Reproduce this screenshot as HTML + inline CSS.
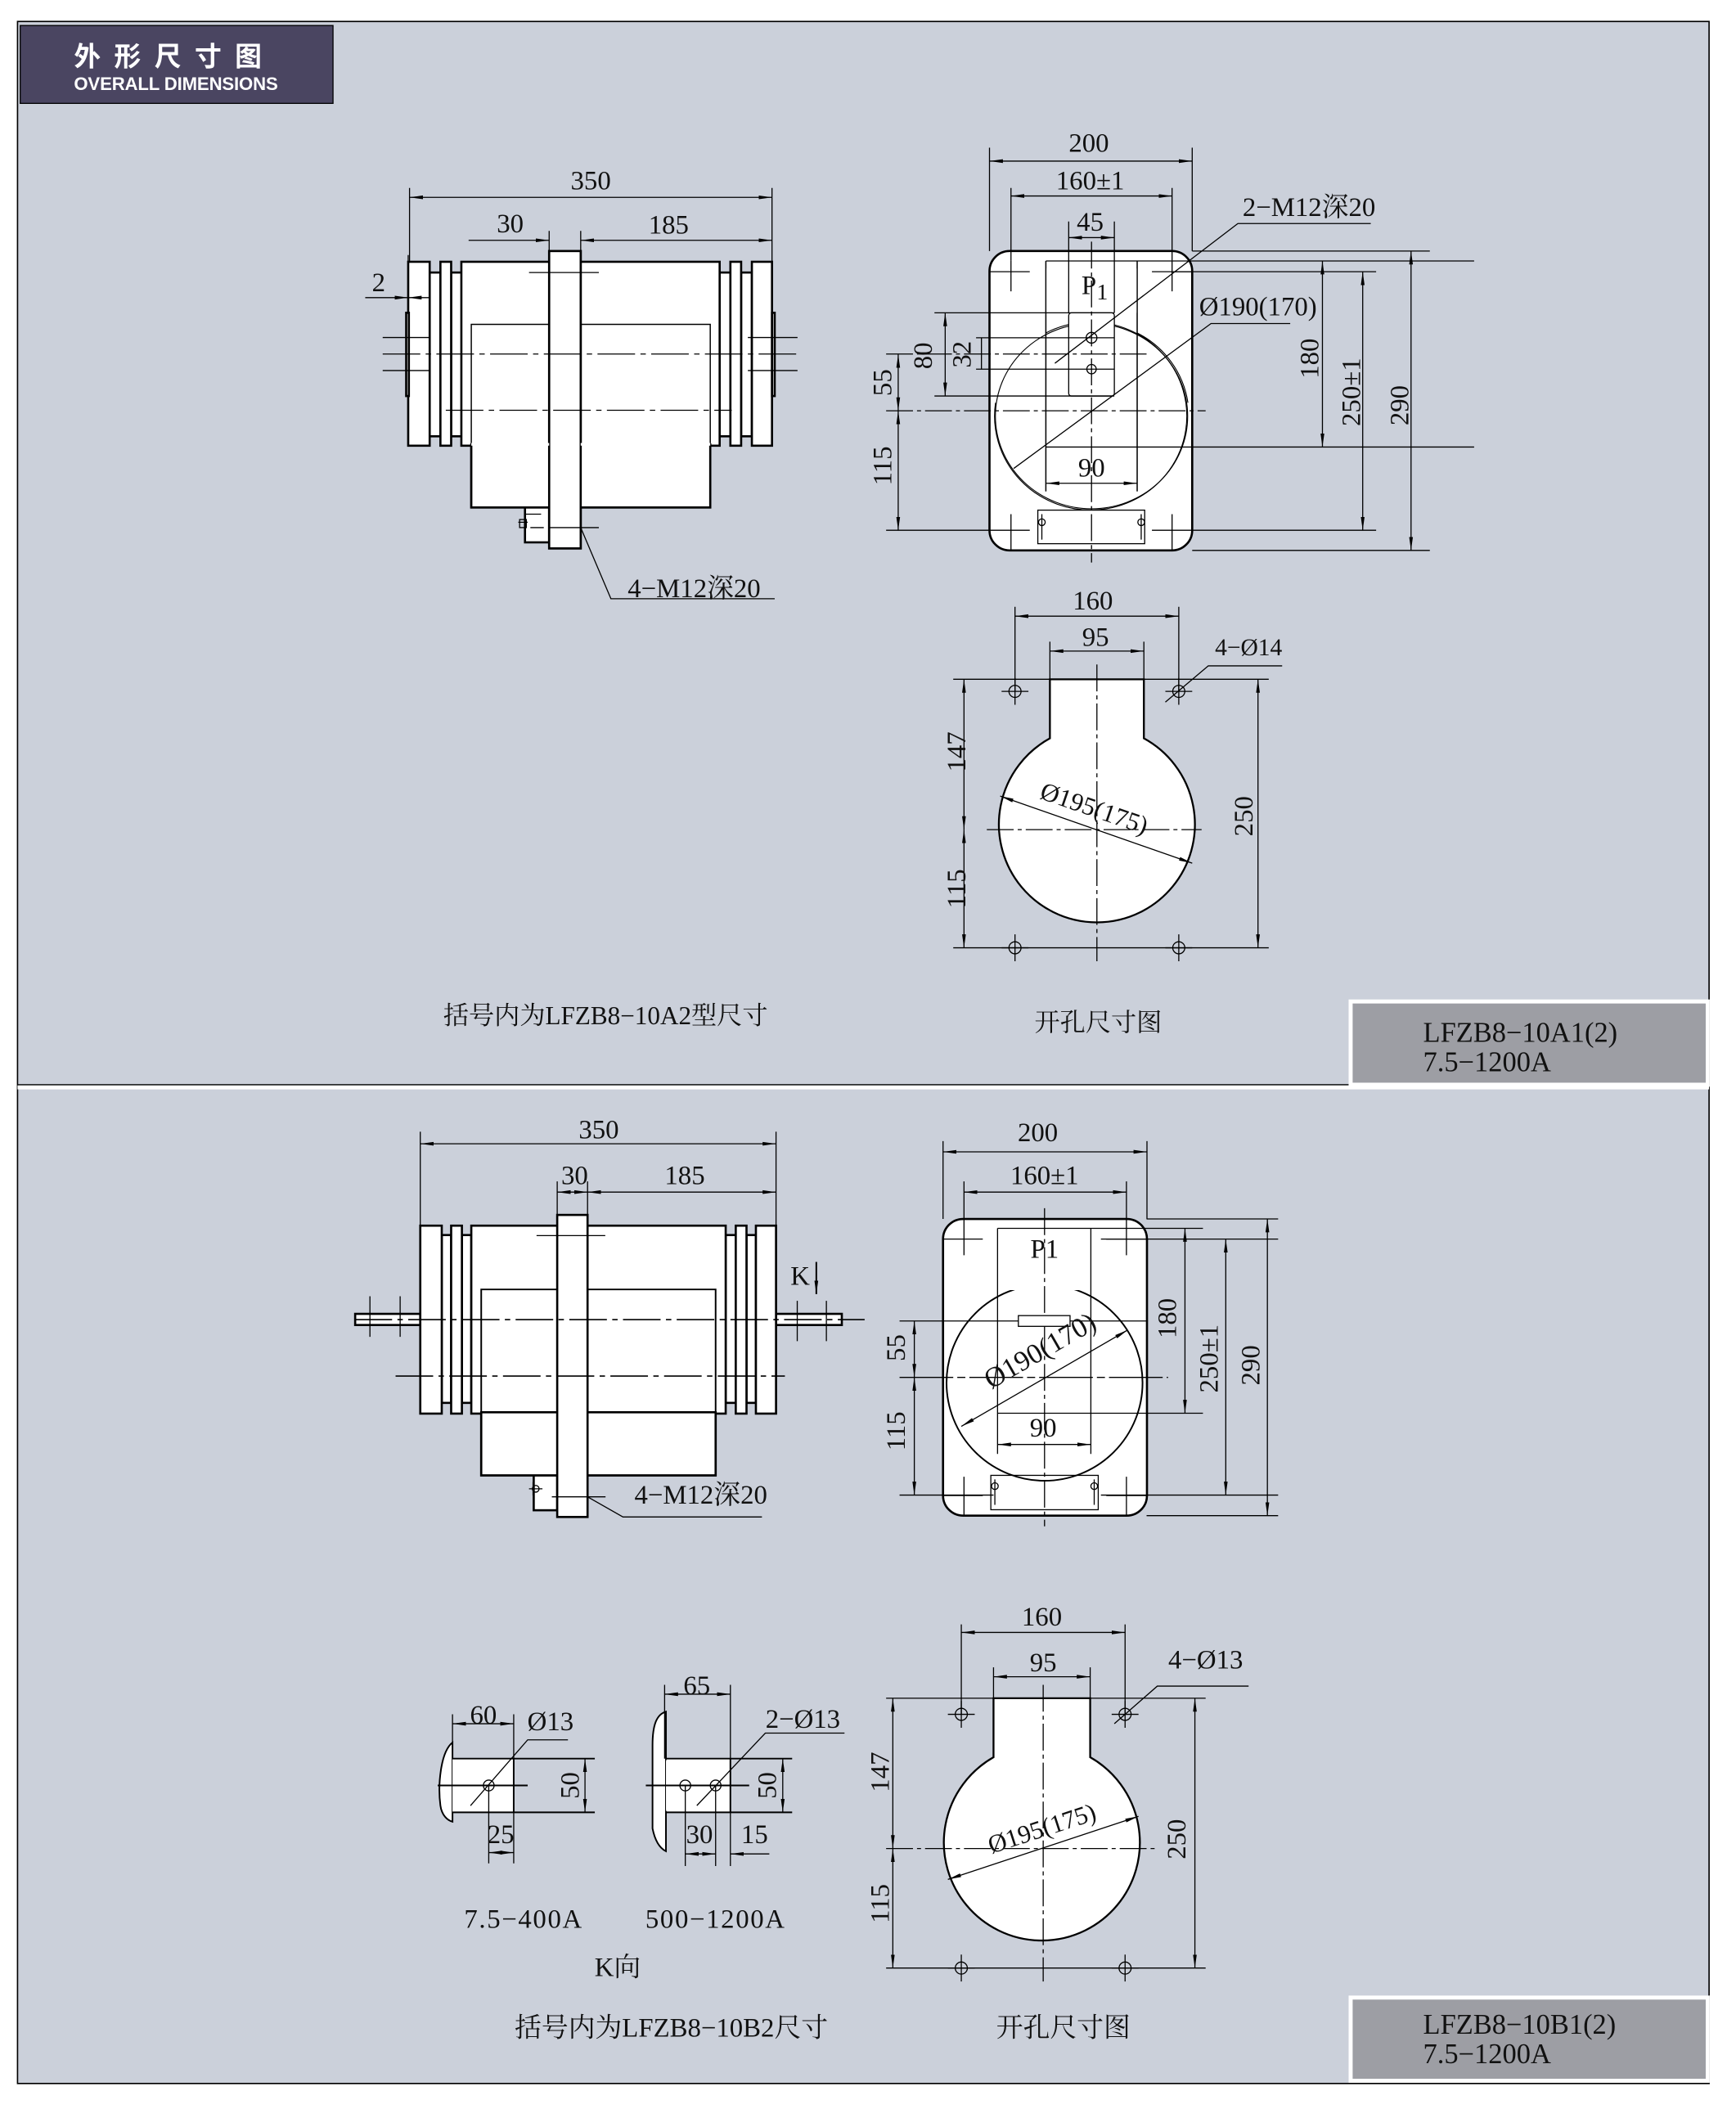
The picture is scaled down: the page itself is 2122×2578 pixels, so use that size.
<!DOCTYPE html>
<html><head><meta charset="utf-8"><style>
html,body{margin:0;padding:0;background:#fff;}
svg{display:block;}
text{font-family:"Liberation Serif","Noto Serif CJK SC","Noto Sans CJK SC",serif;fill:#111;}
</style></head><body>
<svg width="2122" height="2578" viewBox="0 0 1293 1571" xmlns="http://www.w3.org/2000/svg">
<defs>
<marker id="a" viewBox="0 0 10 4" refX="10" refY="2" markerWidth="10" markerHeight="4" markerUnits="userSpaceOnUse" orient="auto-start-reverse"><path d="M0,0.6 L10,2 L0,3.4Z" fill="#000"/></marker>
</defs>
<rect width="1293" height="1571" fill="#fff"/>
<rect x="13" y="16" width="1260" height="1536" fill="#cbd0da" stroke="#000" stroke-width="1"/>
<line x1="13" y1="810" x2="1273" y2="810" stroke="#fff" stroke-width="3"/>
<line x1="13" y1="808" x2="1006" y2="808" stroke="#000" stroke-width="0.8"/>
<!-- header -->
<rect x="15" y="19" width="233" height="58" fill="#4a4561" stroke="#000" stroke-width="0.8"/>
<text x="55" y="49" style="font-family:'Noto Sans CJK SC',sans-serif;font-weight:bold;fill:#fff" font-size="20" letter-spacing="10">外形尺寸图</text>
<text x="55" y="67" style="font-family:'Liberation Sans',sans-serif;font-weight:bold;fill:#fff" font-size="13.5" textLength="152">OVERALL DIMENSIONS</text>
<!-- tag boxes -->
<rect x="1006" y="746" width="266" height="62" fill="#9d9ea4" stroke="#fff" stroke-width="3"/>
<text x="1060" y="776" font-size="21">LFZB8−10A1(2)</text>
<text x="1060" y="798" font-size="21">7.5−1200A</text>
<rect x="1006" y="1488" width="266" height="62" fill="#9d9ea4" stroke="#fff" stroke-width="3"/>
<text x="1060" y="1515" font-size="21">LFZB8−10B1(2)</text>
<text x="1060" y="1537" font-size="21">7.5−1200A</text>

<g stroke="#000" fill="none" stroke-width="0.8">
<!-- ================= TOP SIDE VIEW ================= -->
<g fill="#fff" stroke-width="1.6">
<rect x="351" y="320" width="178" height="58"/>
<rect x="320" y="203" width="8" height="122"/>
<rect x="336" y="203" width="8" height="122"/>
<rect x="536" y="203" width="8" height="122"/>
<rect x="552" y="203" width="8" height="122"/>
<rect x="304" y="195" width="16" height="137"/>
<rect x="328" y="195" width="8" height="137"/>
<rect x="343.6" y="195" width="192.4" height="137"/>
<rect x="544" y="195" width="8" height="137"/>
<rect x="560" y="195" width="15" height="137"/>
<rect x="302.5" y="233" width="2" height="62"/>
<rect x="575" y="233" width="2" height="62"/>
<rect x="391" y="378" width="18" height="26"/>
<rect x="409" y="187" width="23.5" height="221.5"/>
</g>
<rect x="351" y="331" width="178" height="47" fill="#fff" stroke-width="1.6"/>
<path d="M351,332 V241.6 H409 M432.5,241.6 H529 V332" stroke-width="0.9"/>
<rect x="409" y="187" width="23.5" height="221.5" fill="#fff" stroke-width="1.6"/>
<path d="M351,331 H409 M432.5,331 H529" stroke="#fff" stroke-width="2"/>
<line x1="285" y1="263.7" x2="594" y2="263.7" stroke-dasharray="28,4,4,4"/>
<line x1="332" y1="305.6" x2="545" y2="305.6" stroke-dasharray="28,4,4,4"/>
<path d="M285,251.4 H320 M285,276 H320 M557,251.4 H594 M557,276 H594 M394,203 H446 M409,393 H446"/>
<path d="M386,389 H393 M391,383 H403 M395,393 H405"/>
<rect x="387" y="387" width="5" height="6"/>
<!-- dims -->
<path d="M305,140 V195 M575,140 V195 M409,172 V187 M432.5,172 V187 M304,190 V233"/>
<line x1="305" y1="147" x2="575" y2="147" marker-start="url(#a)" marker-end="url(#a)"/>
<line x1="349" y1="179" x2="409" y2="179" marker-end="url(#a)"/>
<line x1="432.5" y1="179" x2="575" y2="179" marker-start="url(#a)" marker-end="url(#a)"/>
<line x1="272" y1="221.7" x2="304" y2="221.7" marker-end="url(#a)"/>
<line x1="320" y1="221.7" x2="304" y2="221.7" marker-end="url(#a)"/>
<path d="M432.5,393 L455,446 H577"/>

<!-- ================= TOP FRONT VIEW ================= -->
<rect x="737" y="187" width="151" height="223" rx="15" fill="#fff" stroke-width="1.6"/>
<path d="M779,194.4 V366 M847,194.4 V366 M779,194.4 H1098 M779,333 H1098 M875,202.4 H1025 M888,395 H1025 M888,187 H1065 M888,410 H1065"/>
<path d="M741.5,300 A71.6,70 0 1 0 779,248 M847,248 A71.6,70 0 0 1 884.8,300" stroke-width="0.7"/>
<ellipse cx="813" cy="310" rx="71.6" ry="69" stroke-width="0.7"/>
<rect x="779" y="200" width="68" height="33" fill="#fff" stroke="none"/>
<path d="M779,194.4 V366 M847,194.4 V366"/>
<rect x="796" y="233" width="34" height="62" rx="2" fill="#fff"/>
<circle cx="813" cy="251.6" r="4"/><circle cx="813" cy="275" r="3.5"/>
<line x1="813" y1="180" x2="813" y2="419" stroke-dasharray="20,3,3,3"/>
<line x1="660" y1="263.7" x2="855" y2="263.7" stroke-dasharray="20,3,3,3"/>
<line x1="660" y1="306" x2="898" y2="306" stroke-dasharray="20,3,3,3"/>
<path d="M696,233 H830 M696,295 H830 M727,251.6 H830 M727,275 H830 M660,395 H737"/>
<path d="M753,194 V217 M737,202.4 H767 M873,194 V217 M858,202.4 H888 M753,383 V410 M737,395 H767 M873,383 V410 M858,395 H888"/>
<rect x="773" y="380" width="79.6" height="25"/>
<path d="M776,383 V402 M850,383 V402"/>
<circle cx="776" cy="389" r="2.5"/><circle cx="850" cy="389" r="2.5"/>
<!-- dims -->
<path d="M737,110 V187 M888,110 V187 M753,140 V194 M873,140 V194 M796,165 V233 M830,165 V233"/>
<line x1="737" y1="120" x2="888" y2="120" marker-start="url(#a)" marker-end="url(#a)"/>
<line x1="753" y1="146" x2="873" y2="146" marker-start="url(#a)" marker-end="url(#a)"/>
<line x1="796" y1="177" x2="830" y2="177" marker-start="url(#a)" marker-end="url(#a)"/>
<line x1="985" y1="194.4" x2="985" y2="333" marker-start="url(#a)" marker-end="url(#a)"/>
<line x1="1015" y1="202.4" x2="1015" y2="395" marker-start="url(#a)" marker-end="url(#a)"/>
<line x1="1051" y1="187" x2="1051" y2="410" marker-start="url(#a)" marker-end="url(#a)"/>
<line x1="704" y1="233" x2="704" y2="295" marker-start="url(#a)" marker-end="url(#a)"/>
<line x1="731" y1="251.6" x2="731" y2="275"/>
<line x1="669" y1="264" x2="669" y2="306" marker-start="url(#a)" marker-end="url(#a)"/>
<line x1="669" y1="306" x2="669" y2="395" marker-start="url(#a)" marker-end="url(#a)"/>
<line x1="779" y1="360" x2="847" y2="360" marker-start="url(#a)" marker-end="url(#a)"/>
<path d="M785.7,270.6 L922,166.5 H1021"/>
<path d="M755,349 L902,241 H961"/>

<!-- ================= TOP CUTOUT ================= -->
<path d="M782,506 H852 V550 A73,73 0 1 1 782,550 Z" fill="#fff" stroke-width="1.4"/>
<line x1="817" y1="495" x2="817" y2="716" stroke-dasharray="20,3,3,3"/>
<line x1="735" y1="618" x2="895" y2="618" stroke-dasharray="20,3,3,3"/>
<circle cx="756" cy="515" r="4.5"/><circle cx="878" cy="515" r="4.5"/>
<circle cx="756" cy="706" r="4.5"/><circle cx="878" cy="706" r="4.5"/>
<path d="M746,515 H766 M756,505 V525 M868,515 H888 M878,505 V525 M746,706 H766 M756,696 V716 M868,706 H888 M878,696 V716"/>
<path d="M756,452 V515 M878,452 V515 M782,478 V506 M852,478 V506 M710,506 H782 M852,506 H945 M710,706 H945"/>
<line x1="756" y1="459" x2="878" y2="459" marker-start="url(#a)" marker-end="url(#a)"/>
<line x1="782" y1="485" x2="852" y2="485" marker-start="url(#a)" marker-end="url(#a)"/>
<line x1="718" y1="506" x2="718" y2="618" marker-start="url(#a)" marker-end="url(#a)"/>
<line x1="718" y1="618" x2="718" y2="706" marker-start="url(#a)" marker-end="url(#a)"/>
<line x1="937" y1="506" x2="937" y2="706" marker-start="url(#a)" marker-end="url(#a)"/>
<line x1="745" y1="593" x2="888" y2="643" marker-start="url(#a)" marker-end="url(#a)"/>
<path d="M868,523 L900,496 H955"/>

<!-- ================= BOTTOM SIDE VIEW ================= -->
<g fill="#fff" stroke-width="1.6">
<rect x="358.4" y="1045" width="174.6" height="54"/>
<rect x="329" y="920" width="7" height="125"/>
<rect x="344" y="920" width="7" height="125"/>
<rect x="540.5" y="920" width="7.5" height="125"/>
<rect x="556" y="920" width="7" height="125"/>
<rect x="264.5" y="978.7" width="48.5" height="8.3"/>
<rect x="578" y="978.7" width="49" height="8.3"/>
<rect x="313" y="913" width="16" height="140"/>
<rect x="336" y="913" width="8" height="140"/>
<rect x="351" y="913" width="189.5" height="140"/>
<rect x="548" y="913" width="8" height="140"/>
<rect x="563" y="913" width="15" height="140"/>
<rect x="397.5" y="1099" width="17.5" height="26"/>
</g>
<rect x="358.4" y="1052" width="174.6" height="47" fill="#fff" stroke-width="1.6"/>
<path d="M358.4,1053 V960.5 H533 V1053" stroke-width="1.2"/>
<rect x="415" y="905" width="22.6" height="225" fill="#fff" stroke-width="1.6"/>
<line x1="264" y1="983" x2="644" y2="983" stroke-dasharray="28,4,4,4" stroke-width="1"/>
<line x1="294.6" y1="1025" x2="584.6" y2="1025" stroke-dasharray="28,4,4,4" stroke-width="1"/>
<path d="M275.5,965.6 V995.8 M298,965.6 V995.8 M593.8,969 V999 M615.5,969 V999 M399.6,920.4 H450.8 M411,1115 H451"/>
<path d="M394,1109 H404 M397,1104 V1114"/>
<circle cx="399" cy="1109" r="2.5"/>
<path d="M313,843 V913 M578,843 V913 M415,880 V905 M437.6,880 V905"/>
<line x1="313" y1="852" x2="578" y2="852" marker-start="url(#a)" marker-end="url(#a)"/>
<line x1="415" y1="888" x2="437.6" y2="888" marker-start="url(#a)" marker-end="url(#a)"/>
<line x1="437.6" y1="888" x2="578" y2="888" marker-start="url(#a)" marker-end="url(#a)"/>
<line x1="608" y1="940" x2="608" y2="964" stroke-width="1.2" marker-end="url(#a)"/>
<path d="M437.6,1115 L464,1130 H567.5"/>

<!-- ================= BOTTOM FRONT VIEW ================= -->
<rect x="702.4" y="908" width="151.9" height="221" rx="15" fill="#fff" stroke-width="1.6"/>
<circle cx="778" cy="1030" r="73" stroke-width="1.2"/>
<rect x="744" y="916" width="68" height="45" fill="#fff" stroke="none"/>
<path d="M743,915 V1083 M812.5,915 V1083 M743,915 H896 M743,1052.7 H896 M820,923 H952 M820,1113.7 H952 M854,908 H952 M854,1129 H952 M670,984 H855 M670,1113.7 H740"/>
<line x1="778" y1="900" x2="778" y2="1137" stroke-dasharray="20,3,3,3"/>
<line x1="670" y1="1026" x2="870" y2="1026" stroke-dasharray="40,3,6,3"/>
<rect x="758.5" y="980" width="38.5" height="8" fill="#fff"/>
<rect x="738" y="1099" width="80" height="25.6"/>
<path d="M741,1102 V1121 M815,1102 V1121 M718,915 V935 M702,923 H732 M839,915 V935 M824,923 H854 M718,1100 V1129 M702,1114 H732 M839,1100 V1129 M824,1114 H854"/>
<circle cx="741" cy="1107" r="2.5"/><circle cx="815" cy="1107" r="2.5"/>
<path d="M702.4,850 V908 M854.3,850 V908 M718,880 V915 M839,880 V915"/>
<line x1="702.4" y1="858" x2="854.3" y2="858" marker-start="url(#a)" marker-end="url(#a)"/>
<line x1="718" y1="888" x2="839" y2="888" marker-start="url(#a)" marker-end="url(#a)"/>
<line x1="882.6" y1="915" x2="882.6" y2="1052.7" marker-start="url(#a)" marker-end="url(#a)"/>
<line x1="913" y1="923" x2="913" y2="1113.7" marker-start="url(#a)" marker-end="url(#a)"/>
<line x1="944" y1="908" x2="944" y2="1129" marker-start="url(#a)" marker-end="url(#a)"/>
<line x1="681" y1="984" x2="681" y2="1026" marker-start="url(#a)" marker-end="url(#a)"/>
<line x1="681" y1="1026" x2="681" y2="1113.7" marker-start="url(#a)" marker-end="url(#a)"/>
<line x1="743" y1="1076" x2="812.5" y2="1076" marker-start="url(#a)" marker-end="url(#a)"/>
<line x1="716" y1="1062.5" x2="840" y2="990.7" marker-start="url(#a)" marker-end="url(#a)"/>

<!-- ================= BOTTOM CUTOUT ================= -->
<path d="M740,1265 H812 V1309 A73,73 0 1 1 740,1309 Z" fill="#fff" stroke-width="1.4"/>
<line x1="777" y1="1255" x2="777" y2="1476" stroke-dasharray="20,3,3,3"/>
<line x1="660" y1="1377" x2="860" y2="1377" stroke-dasharray="20,3,3,3"/>
<circle cx="716" cy="1277" r="4.5"/><circle cx="838" cy="1277" r="4.5"/>
<circle cx="716" cy="1466" r="4.5"/><circle cx="838" cy="1466" r="4.5"/>
<path d="M706,1277 H726 M716,1267 V1287 M828,1277 H848 M838,1267 V1287 M706,1466 H726 M716,1456 V1476 M828,1466 H848 M838,1456 V1476"/>
<path d="M716,1210 V1277 M838,1210 V1277 M740,1242 V1265 M812,1242 V1265 M660,1265 H740 M812,1265 H898 M660,1466 H898"/>
<line x1="716" y1="1216" x2="838" y2="1216" marker-start="url(#a)" marker-end="url(#a)"/>
<line x1="740" y1="1249" x2="812" y2="1249" marker-start="url(#a)" marker-end="url(#a)"/>
<line x1="665" y1="1265" x2="665" y2="1377" marker-start="url(#a)" marker-end="url(#a)"/>
<line x1="665" y1="1377" x2="665" y2="1466" marker-start="url(#a)" marker-end="url(#a)"/>
<line x1="890" y1="1265" x2="890" y2="1466" marker-start="url(#a)" marker-end="url(#a)"/>
<line x1="706" y1="1400" x2="848" y2="1353" marker-start="url(#a)" marker-end="url(#a)"/>
<path d="M830,1284 L862,1256 H930"/>

<!-- ================= K VIEWS ================= -->
<path d="M337,1298 C328,1305 326,1330 328,1345 C329,1352 333,1356 337,1357 Z" fill="#fff" stroke-width="1.2"/>
<rect x="337" y="1310" width="45.6" height="40" fill="#fff" stroke="none"/>
<path d="M337,1310 H443 M337,1350 H443 M382.6,1310 V1350 M326,1330 H393" stroke-width="1.2"/>
<circle cx="364" cy="1330" r="4"/>
<path d="M337,1277 V1310 M382.6,1277 V1310 M364,1330 V1388 M382.6,1350 V1388"/>
<line x1="337" y1="1284" x2="382.6" y2="1284" marker-start="url(#a)" marker-end="url(#a)"/>
<line x1="435.7" y1="1310" x2="435.7" y2="1350" marker-start="url(#a)" marker-end="url(#a)"/>
<line x1="364" y1="1380" x2="382.6" y2="1380" marker-start="url(#a)" marker-end="url(#a)"/>
<path d="M350.4,1345 L393,1296 H423"/>

<path d="M496,1275 C489,1277 486,1285 486,1300 L486,1362 C488,1372 492,1377 496,1379 Z" fill="#fff" stroke-width="1.2"/>
<rect x="496" y="1310" width="48" height="40" rx="2" fill="#fff" stroke="none"/>
<path d="M496,1310 H590 M496,1350 H590 M544,1310 V1350 M481,1330 H558" stroke-width="1.2"/>
<circle cx="510.4" cy="1330" r="4"/><circle cx="533" cy="1330" r="4"/>
<path d="M495,1255 V1310 M544,1255 V1310 M510.4,1330 V1390 M533,1330 V1390 M544,1350 V1390"/>
<line x1="495" y1="1262" x2="544" y2="1262" marker-start="url(#a)" marker-end="url(#a)"/>
<line x1="583" y1="1310" x2="583" y2="1350" marker-start="url(#a)" marker-end="url(#a)"/>
<line x1="510.4" y1="1381" x2="533" y2="1381" marker-start="url(#a)" marker-end="url(#a)"/>
<line x1="544" y1="1381" x2="573" y2="1381" marker-start="url(#a)"/>
<path d="M519,1345 L570,1291 H629"/>
</g>

<!-- ================= TEXT ================= -->
<g font-size="20" text-anchor="middle">
<text x="440" y="141">350</text>
<text x="380" y="173">30</text>
<text x="498" y="174">185</text>
<text x="282" y="217">2</text>
<text x="517" y="445">4−M12深20</text>

<text x="811" y="113">200</text>
<text x="812" y="141">160±1</text>
<text x="812" y="172">45</text>
<text x="811" y="219">P</text><text x="821" y="223" font-size="17">1</text>
<text x="975" y="161">2−M12深20</text>
<text x="937" y="235">Ø190(170)</text>
<text x="813" y="355">90</text>
<text transform="translate(982,267) rotate(-90)">180</text>
<text transform="translate(1013,292) rotate(-90)">250±1</text>
<text transform="translate(1049,302) rotate(-90)">290</text>
<text transform="translate(694,265) rotate(-90)">80</text>
<text transform="translate(723,264) rotate(-90)">32</text>
<text transform="translate(664,285) rotate(-90)">55</text>
<text transform="translate(664,347) rotate(-90)">115</text>

<text x="814" y="454">160</text>
<text x="816" y="481">95</text>
<text x="930" y="488" font-size="18">4−Ø14</text>
<text transform="translate(813,608) rotate(19)" font-size="19">Ø195(175)</text>
<text transform="translate(719,560) rotate(-90)">147</text>
<text transform="translate(719,662) rotate(-90)">115</text>
<text transform="translate(933,608) rotate(-90)">250</text>

<text x="451" y="763" font-size="19">括号内为LFZB8−10A2型尺寸</text>
<text x="818" y="768" font-size="19">开孔尺寸图</text>

<text x="446" y="848">350</text>
<text x="428" y="882">30</text>
<text x="510" y="882">185</text>
<text x="596" y="957">K</text>
<text x="522" y="1120">4−M12深20</text>

<text x="773" y="850">200</text>
<text x="778" y="882">160±1</text>
<text x="778" y="937">P1</text>
<text x="777" y="1070">90</text>
<text transform="translate(876,982) rotate(-90)">180</text>
<text transform="translate(907,1012) rotate(-90)">250±1</text>
<text transform="translate(938,1017) rotate(-90)">290</text>
<text transform="translate(674,1004) rotate(-90)">55</text>
<text transform="translate(674,1066) rotate(-90)">115</text>
<text transform="translate(778,1012) rotate(-30)" font-size="21">Ø190(170)</text>

<text x="776" y="1211">160</text>
<text x="777" y="1245">95</text>
<text x="898" y="1243">4−Ø13</text>
<text transform="translate(778,1368) rotate(-18)" font-size="19">Ø195(175)</text>
<text transform="translate(662,1320) rotate(-90)">147</text>
<text transform="translate(662,1418) rotate(-90)">115</text>
<text transform="translate(883,1370) rotate(-90)">250</text>

<text x="360" y="1284">60</text>
<text x="410" y="1289">Ø13</text>
<text transform="translate(431,1330) rotate(-90)">50</text>
<text x="373" y="1373">25</text>
<text x="519" y="1262">65</text>
<text x="598" y="1287">2−Ø13</text>
<text transform="translate(578,1330) rotate(-90)">50</text>
<text x="521" y="1373">30</text>
<text x="562" y="1373">15</text>
<text x="390" y="1436" letter-spacing="1">7.5−400A</text>
<text x="533" y="1436" letter-spacing="1">500−1200A</text>
<text x="460" y="1472">K向</text>
<text x="500" y="1517">括号内为LFZB8−10B2尺寸</text>
<text x="792" y="1517">开孔尺寸图</text>
</g>
</svg>
</body></html>
